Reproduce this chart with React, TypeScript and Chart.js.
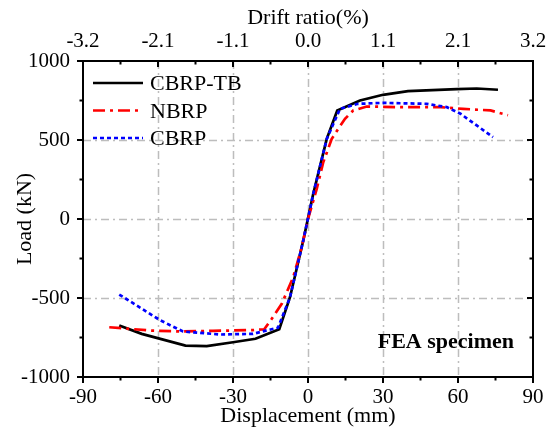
import React, { useEffect, useRef } from "react";
import { Chart, registerables } from "chart.js";

Chart.register(...registerables);

// ---- Data ----
const tbDisp = [-75.5, -66.5, -49, -40.5, -30, -21, -11.5, -7.2, -1.9, 2.1, 7.5, 11.7, 20.8, 30, 40, 59.5, 67.5, 76];
const tbLoad = [-674, -727, -801, -805, -780, -758, -698, -495, -136, 159, 507, 687, 750, 786, 809, 822, 826, 818];

const nbDisp = [-79.5, -63, -50, -38, -22, -17.5, -14.5, -10.5, -5.9, -2.5, 0, 3.5, 6.1, 9.5, 12.1, 14.8, 18.1, 23.5, 37, 53, 62, 73, 80];
const nbLoad = [-685, -706, -712, -708, -703, -698, -632, -537, -368, -178, 0, 191, 359, 507, 571, 634, 687, 712, 708, 708, 697, 687, 657];

const cbDisp = [-75.5, -59, -50, -35, -22, -16.5, -12, -7.2, -1.9, 2.1, 7.5, 12.8, 20, 30, 47.5, 55.5, 61, 67.5, 74];
const cbLoad = [-478, -642, -712, -731, -727, -705, -688, -495, -136, 159, 507, 697, 729, 735, 729, 708, 666, 592, 518];

const seriesNames = ["CBRP-TB", "NBRP", "CBRP"];
const driftLabels = ["-3.2", "-2.1", "-1.1", "0.0", "1.1", "2.1", "3.2"];
const dispTicks = [-90, -60, -30, 0, 30, 60, 90];
const loadTicks = [-1000, -500, 0, 500, 1000];
const noteText = "FEA specimen";

const FONT = "'Liberation Serif', 'Times New Roman', serif";

const colors = ["#000000", "#ff0000", "#0000ff"];
const dashes: number[][] = [[], [12, 5, 3, 5], [4, 3]];

const toPts = (xs: number[], ys: number[]) => xs.map((x, i) => ({ x, y: ys[i] }));

const decor = {
  id: "decor",
  beforeDatasetsDraw(chart: any) {
    const { ctx, chartArea: a, scales } = chart;
    const xs = scales.x, ys = scales.y;
    ctx.save();
    ctx.strokeStyle = "#bdbdbd";
    ctx.lineWidth = 1.5;
    ctx.setLineDash([8, 4, 2, 4]);
    dispTicks.slice(1, -1).forEach((v) => {
      const px = Math.round(xs.getPixelForValue(v)) + 0.5;
      ctx.beginPath();
      ctx.moveTo(px, a.top);
      ctx.lineTo(px, a.bottom);
      ctx.stroke();
    });
    loadTicks.slice(1, -1).forEach((v) => {
      const py = Math.round(ys.getPixelForValue(v)) + 0.5;
      ctx.beginPath();
      ctx.moveTo(a.left, py);
      ctx.lineTo(a.right, py);
      ctx.stroke();
    });
    ctx.restore();
  },
  afterDraw(chart: any) {
    const { ctx, chartArea: a, scales } = chart;
    const xs = scales.x, ys = scales.y;
    ctx.save();
    ctx.setLineDash([]);
    ctx.strokeStyle = "#000";
    ctx.lineWidth = 2;
    ctx.strokeRect(a.left, a.top, a.right - a.left, a.bottom - a.top);
    // x ticks (major & minor)
    for (let i = 0; i < dispTicks.length; i++) {
      const v = dispTicks[i];
      const px = xs.getPixelForValue(v);
      ctx.beginPath();
      ctx.moveTo(px, a.bottom);
      ctx.lineTo(px, a.bottom + 6);
      ctx.moveTo(px, a.top);
      ctx.lineTo(px, a.top + 6);
      ctx.stroke();
      if (i < dispTicks.length - 1) {
        const pm = xs.getPixelForValue((v + dispTicks[i + 1]) / 2);
        ctx.beginPath();
        ctx.moveTo(pm, a.bottom);
        ctx.lineTo(pm, a.bottom + 3.5);
        ctx.moveTo(pm, a.top);
        ctx.lineTo(pm, a.top + 3.5);
        ctx.stroke();
      }
    }
    for (let i = 0; i < loadTicks.length; i++) {
      const v = loadTicks[i];
      const py = ys.getPixelForValue(v);
      ctx.beginPath();
      ctx.moveTo(a.left, py);
      ctx.lineTo(a.left - 6, py);
      ctx.moveTo(a.right, py);
      ctx.lineTo(a.right - 6, py);
      ctx.stroke();
      if (i < loadTicks.length - 1) {
        const pm = ys.getPixelForValue((v + loadTicks[i + 1]) / 2);
        ctx.beginPath();
        ctx.moveTo(a.left, pm);
        ctx.lineTo(a.left - 3.5, pm);
        ctx.moveTo(a.right, pm);
        ctx.lineTo(a.right - 3.5, pm);
        ctx.stroke();
      }
    }
    // legend
    const lx0 = a.left + 10, lx1 = a.left + 60;
    const rows = [83, 110.5, 138];
    ctx.font = `22px ${FONT}`;
    ctx.textBaseline = "alphabetic";
    ctx.textAlign = "left";
    ctx.fillStyle = "#000";
    rows.forEach((y, i) => {
      ctx.save();
      ctx.strokeStyle = colors[i];
      ctx.lineWidth = 2.5;
      ctx.setLineDash(dashes[i]);
      ctx.beginPath();
      ctx.moveTo(lx0, y);
      ctx.lineTo(lx1, y);
      ctx.stroke();
      ctx.restore();
      ctx.fillText(seriesNames[i], lx0 + 57, y + 7);
    });
    // annotation
    ctx.font = `bold 22px ${FONT}`;
    ctx.textAlign = "right";
    ctx.fillText(noteText, a.right - 19, a.bottom - 29);
    ctx.restore();
  },
};

export default function App() {
  const ref = useRef<HTMLCanvasElement | null>(null);
  useEffect(() => {
    document.body.style.margin = "0";
    Chart.defaults.color = "#000";
    Chart.defaults.font.family = FONT;
    const mk = (xs: number[], ys: number[], i: number) => ({
      label: seriesNames[i],
      data: toPts(xs, ys),
      borderColor: colors[i],
      backgroundColor: colors[i],
      borderWidth: 2.7,
      borderDash: dashes[i],
      pointRadius: 0,
      tension: 0,
      fill: false,
    });
    const chart = new Chart(ref.current as HTMLCanvasElement, {
      type: "line",
      data: {
        datasets: [mk(tbDisp, tbLoad, 0), mk(nbDisp, nbLoad, 1), mk(cbDisp, cbLoad, 2)].reverse(),
      },
      options: {
        animation: false,
        responsive: false,
        devicePixelRatio: 1,
        layout: { padding: { left: 0, right: 25, top: 0, bottom: 0 } },
        plugins: { legend: { display: false }, tooltip: { enabled: false } },
        scales: {
          x: {
            type: "linear",
            position: "bottom",
            min: -90,
            max: 90,
            afterBuildTicks: (s: any) => { s.ticks = dispTicks.map((v) => ({ value: v })); },
            afterFit: (s: any) => { s.height = 55; },
            grid: { display: false, drawTicks: false },
            border: { display: false },
            ticks: { font: { size: 21, family: FONT }, padding: 8, maxRotation: 0, color: "#000", callback: (v: any) => String(v) },
            title: { display: true, text: "Displacement (mm)", font: { size: 22, family: FONT }, padding: { top: 0, bottom: 3 }, color: "#000" },
          },
          x2: {
            type: "linear",
            position: "top",
            min: -90,
            max: 90,
            afterBuildTicks: (s: any) => { s.ticks = dispTicks.map((v) => ({ value: v })); },
            afterFit: (s: any) => { s.height = 61; },
            grid: { display: false, drawTicks: false },
            border: { display: false },
            ticks: {
              font: { size: 21, family: FONT },
              padding: 7,
              maxRotation: 0,
              color: "#000",
              callback: (v: any) => driftLabels[dispTicks.indexOf(Number(v))] ?? "",
            },
            title: { display: true, text: "Drift ratio(%)", font: { size: 22, family: FONT }, padding: { top: 5, bottom: 0 }, color: "#000" },
          },
          y: {
            type: "linear",
            min: -1000,
            max: 1000,
            afterBuildTicks: (s: any) => { s.ticks = loadTicks.map((v) => ({ value: v })); },
            afterFit: (s: any) => { s.width = 83; },
            grid: { display: false, drawTicks: false },
            border: { display: false },
            ticks: { font: { size: 21, family: FONT }, padding: 13, color: "#000", callback: (v: any) => String(v) },
            title: { display: true, text: "Load (kN)", font: { size: 22, family: FONT }, padding: { top: 12, bottom: 0 }, color: "#000" },
          },
        },
      },
      plugins: [decor],
    } as any);
    return () => chart.destroy();
  }, []);
  return <canvas ref={ref} width={558} height={432} style={{ display: "block", width: 558, height: 432 }} />;
}
